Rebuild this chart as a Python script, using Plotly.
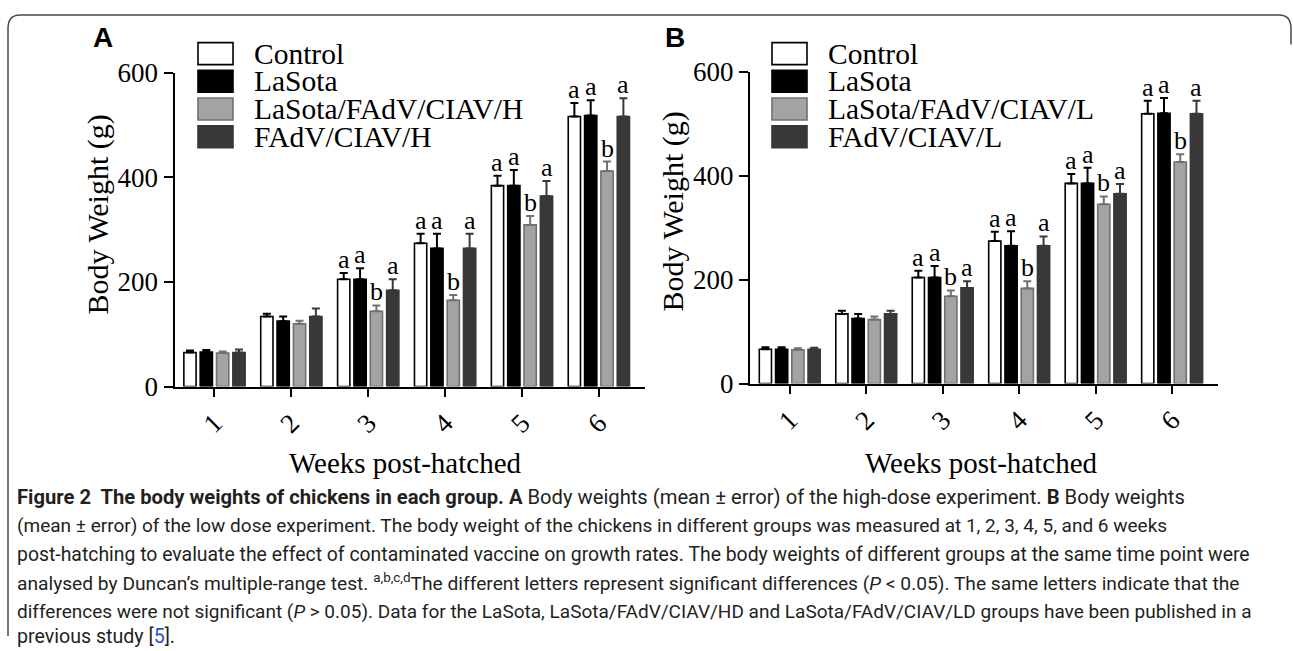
import plotly.graph_objects as go

W, H = 1293, 651

# ---------------- data ----------------
weeks = ["1", "2", "3", "4", "5", "6"]
groups_A = ["Control", "LaSota", "LaSota/FAdV/CIAV/H", "FAdV/CIAV/H"]
groups_B = ["Control", "LaSota", "LaSota/FAdV/CIAV/L", "FAdV/CIAV/L"]

ctrl_A = [65, 134, 205, 274, 384, 516]
ctrl_A_err = [4, 5, 12, 18, 19, 26]
lasota_A = [66, 125, 205, 264, 384, 518]
lasota_A_err = [4, 9, 21, 28, 30, 29]
mix_A = [64, 120, 144, 165, 309, 412]
mix_A_err = [3, 6, 11, 10, 17, 18]
fadv_A = [65, 134, 184, 264, 364, 516]
fadv_A_err = [6, 15, 21, 28, 29, 35]

ctrl_B = [66, 134, 204, 274, 385, 519]
ctrl_B_err = [4, 6, 13, 18, 18, 25]
lasota_B = [66, 125, 204, 265, 385, 520]
lasota_B_err = [4, 9, 22, 28, 30, 29]
mix_B = [65, 123, 168, 183, 345, 426]
mix_B_err = [3, 6, 11, 14, 15, 15]
fadv_B = [66, 134, 184, 265, 365, 519]
fadv_B_err = [3, 6, 13, 18, 19, 25]

# significance letters (weeks 1-2 have none)
letters_ctrl = ["", "", "a", "a", "a", "a"]
letters_lasota = ["", "", "a", "a", "a", "a"]
letters_mix = ["", "", "b", "b", "b", "b"]
letters_fadv = ["", "", "a", "a", "a", "a"]

y_ticks = [0, 200, 400, 600]

# ---------------- styles ----------------
fills = ["#ffffff", "#000000", "#a3a3a3", "#383838"]
edges = ["#000000", "#000000", "#707070", "#383838"]
err_cols = ["#000000", "#000000", "#707070", "#383838"]
SERIF = "Liberation Serif"
BARGAP = 0.15
BARGROUPGAP = 0.25

# the photographed page comes out vertically scaled/offset; compensate
V_OFF, V_SCALE = 15.4, 0.954


def fx(p):
    return p / W


def fy(t):
    p = (t - V_OFF) / V_SCALE
    return min(max(1 - p / H, 0.0), 1.0)


fig = go.Figure()

panels = [
    dict(xa="x", ya="y", groups=groups_A,
         vals=[ctrl_A, lasota_A, mix_A, fadv_A],
         errs=[ctrl_A_err, lasota_A_err, mix_A_err, fadv_A_err],
         sw_left=198, txt_left=252, label="A", label_x=102.5,
         xtitle=(406, 463), ytitle=(98, 215)),
    dict(xa="x2", ya="y2", groups=groups_B,
         vals=[ctrl_B, lasota_B, mix_B, fadv_B],
         errs=[ctrl_B_err, lasota_B_err, mix_B_err, fadv_B_err],
         sw_left=772, txt_left=826, label="B", label_x=674.5,
         xtitle=(981, 463), ytitle=(673, 212)),
]
letters = [letters_ctrl, letters_lasota, letters_mix, letters_fadv]

annotations = []
shapes = []
n = 4
slot = (1 - BARGAP) / n

for p in panels:
    for i in range(n):
        fig.add_trace(go.Bar(
            x=weeks, y=p["vals"][i], name=p["groups"][i],
            xaxis=p["xa"], yaxis=p["ya"], showlegend=False,
            marker=dict(color=fills[i], line=dict(color=edges[i], width=1.6)),
            error_y=dict(type="data", array=p["errs"][i],
                         arrayminus=[0] * len(weeks), symmetric=False,
                         color=err_cols[i], thickness=2, width=4),
        ))
        off = -0.5 * (1 - BARGAP) + slot * (i + 0.5)
        for j, w in enumerate(weeks):
            if letters[i][j]:
                annotations.append(dict(
                    x=j + off, y=p["vals"][i][j] + p["errs"][i][j],
                    xref=p["xa"], yref=p["ya"], text=letters[i][j],
                    showarrow=False, yanchor="bottom", yshift=-3,
                    font=dict(family=SERIF, size=26, color="black")))
        # legend (custom, large swatches)
        yc = 54 + 27.7 * i
        shapes.append(dict(type="rect", xref="paper", yref="paper",
                           x0=fx(p["sw_left"]), x1=fx(p["sw_left"] + 35),
                           y0=fy(yc + 11), y1=fy(yc - 11),
                           fillcolor=fills[i],
                           line=dict(color=edges[i], width=1.6)))
        annotations.append(dict(x=fx(p["txt_left"]), y=fy(yc), xref="paper",
                                yref="paper", text=p["groups"][i],
                                showarrow=False, xanchor="left",
                                yanchor="middle",
                                font=dict(family=SERIF, size=29.5,
                                          color="black")))
    # panel label
    annotations.append(dict(x=fx(p["label_x"]), y=fy(38), xref="paper",
                            yref="paper", text="<b>" + p["label"] + "</b>",
                            showarrow=False, xanchor="center", yanchor="middle",
                            font=dict(family="Liberation Sans", size=28,
                                      color="black")))
    # axis titles
    annotations.append(dict(x=fx(p["xtitle"][0]), y=fy(p["xtitle"][1]),
                            xref="paper", yref="paper",
                            text="Weeks post-hatched", showarrow=False,
                            xanchor="center", yanchor="middle",
                            font=dict(family=SERIF, size=29, color="black")))
    annotations.append(dict(x=fx(p["ytitle"][0]), y=fy(p["ytitle"][1]),
                            xref="paper", yref="paper",
                            text="Body Weight (g)", showarrow=False,
                            textangle=-90, xanchor="center", yanchor="middle",
                            font=dict(family=SERIF, size=30, color="black")))

# caption
caption_lines = [
    "<b>Figure 2  The body weights of chickens in each group. A</b> Body weights (mean ± error) of the high-dose experiment. <b>B</b> Body weights",
    "(mean ± error) of the low dose experiment. The body weight of the chickens in different groups was measured at 1, 2, 3, 4, 5, and 6 weeks",
    "post-hatching to evaluate the effect of contaminated vaccine on growth rates. The body weights of different groups at the same time point were",
    "analysed by Duncan’s multiple-range test. <sup>a,b,c,d</sup>The different letters represent significant differences (<i>P</i> &lt; 0.05). The same letters indicate that the",
    "differences were not significant (<i>P</i> &gt; 0.05). Data for the LaSota, LaSota/FAdV/CIAV/HD and LaSota/FAdV/CIAV/LD groups have been published in a",
    "previous study [<span style='color:#2b4ed8'>5</span>].",
]
caption_sizes = [20.2, 19.0, 19.4, 19.2, 19.0, 19.6]
for k, line in enumerate(caption_lines):
    annotations.append(dict(x=fx(15), y=fy(497.7 + 28.5 * k), xref="paper",
                            yref="paper", text=line, showarrow=False,
                            xanchor="left", yanchor="middle", align="left",
                            font=dict(family="Roboto", size=caption_sizes[k],
                                      color="#231f20")))

# frame: rounded top corners, left side running down to the bottom edge
r = 12
top = 9
path = (f"M {fx(1291)},{fy(45)} L {fx(1291)},{fy(top + r + 8)} "
        f"Q {fx(1291)},{fy(top)} {fx(1291 - r)},{fy(top)} "
        f"L {fx(8 + r)},{fy(top)} Q {fx(8)},{fy(top)} {fx(8)},{fy(top + r + 8)} "
        f"L {fx(8)},{fy(660)}")
shapes.append(dict(type="path", xref="paper", yref="paper", path=path,
                   line=dict(color="#4a4a4a", width=1.5)))

xaxis_common = dict(type="category", range=[-0.52, 5.6], showline=True,
                    linecolor="black", linewidth=2, ticks="outside",
                    ticklen=8, tickwidth=2, tickcolor="black",
                    showgrid=False, zeroline=False, tickangle=-45,
                    tickfont=dict(family=SERIF, size=27, color="black"),
                    fixedrange=True)
yaxis_common = dict(range=[0, 600], tickvals=y_ticks, showline=True,
                    linecolor="black", linewidth=2, ticks="outside",
                    ticklen=9, tickwidth=2, tickcolor="black",
                    showgrid=False, zeroline=False,
                    tickfont=dict(family=SERIF, size=27, color="black"),
                    fixedrange=True)

fig.update_layout(
    width=W, height=H,
    margin=dict(l=0, r=0, t=0, b=0),
    paper_bgcolor="white", plot_bgcolor="white",
    barmode="group", bargap=BARGAP, bargroupgap=BARGROUPGAP,
    showlegend=False,
    xaxis=dict(domain=[fx(174.5), fx(645)], anchor="y", **xaxis_common),
    yaxis=dict(domain=[fy(387), fy(73)], anchor="x", **yaxis_common),
    xaxis2=dict(domain=[fx(750), fx(1218)], anchor="y2", **xaxis_common),
    yaxis2=dict(domain=[fy(384), fy(72)], anchor="x2", **yaxis_common),
    annotations=annotations,
    shapes=shapes,
)

# pin the figure to the page's top-left corner (no default body margin)
post = ("document.body.style.margin='0';"
        "document.body.style.overflow='hidden';"
        "document.documentElement.style.overflow='hidden';"
        "var d=document.getElementById('{plot_id}');"
        "d.style.position='fixed';d.style.left='0px';d.style.top='0px';")

fig.write_html("out.html", config={"displayModeBar": False}, post_script=post)
